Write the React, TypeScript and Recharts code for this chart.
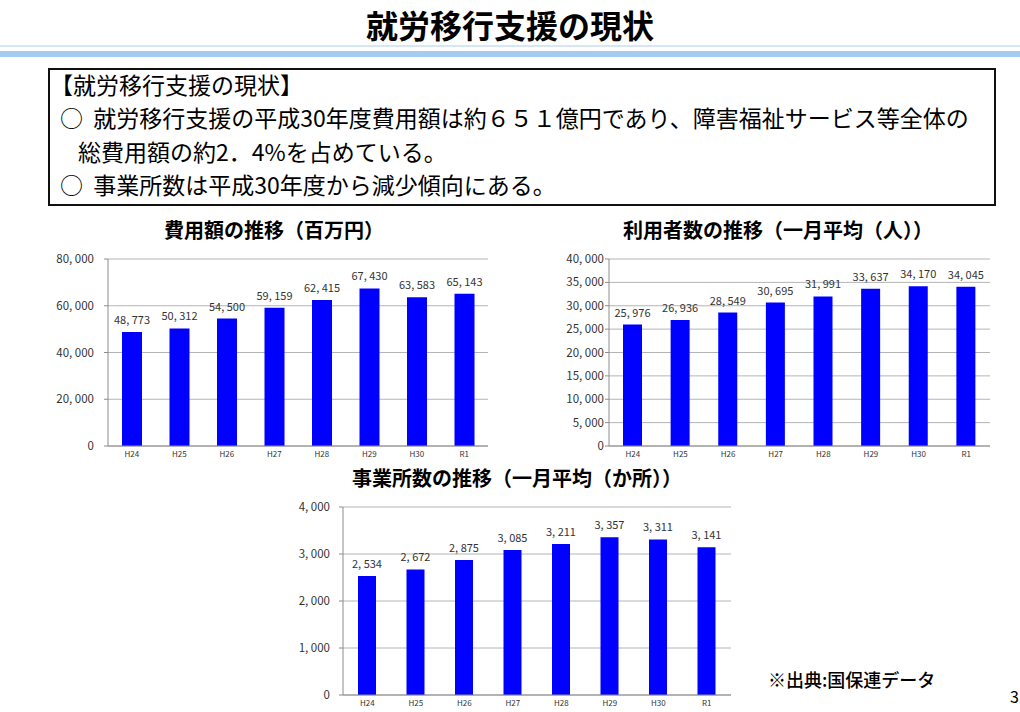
import { BarChart, Bar, XAxis, YAxis, CartesianGrid, LabelList } from 'recharts';

const categories = ['H24', 'H25', 'H26', 'H27', 'H28', 'H29', 'H30', 'R1'];
const costValues = [48773, 50312, 54500, 59159, 62415, 67430, 63583, 65143];
const userValues = [25976, 26936, 28549, 30695, 31991, 33637, 34170, 34045];
const officeValues = [2534, 2672, 2875, 3085, 3211, 3357, 3311, 3141];

const costTicks = [0, 20000, 40000, 60000, 80000];
const userTicks = [0, 5000, 10000, 15000, 20000, 25000, 30000, 35000, 40000];
const officeTicks = [0, 1000, 2000, 3000, 4000];

const FONT = "'Noto Sans CJK JP', 'Noto Sans', sans-serif";
const BAR_COLOR = '#0000ff';

// Excel-style "48, 773" (non-breaking space so the label never wraps)
const fmt = (n: number) => n.toLocaleString('en-US').replace(/,/g, ',\u00a0');

interface PanelProps {
  values: number[];
  ticks: number[];
  plotLeft: number;
  plotTop: number;
  plotW: number;
  plotH: number;
  yWidth: number;
  tickGap: number;
  barSize: number;
}

const renderValueLabel = (props: any) => {
  const { x, y, width, value } = props;
  return (
    <text
      x={Number(x) + Number(width) / 2}
      y={Number(y) - 8}
      textAnchor="middle"
      fontSize={11}
      fill="#333"
      fontFamily={FONT}
    >
      {fmt(Number(value))}
    </text>
  );
};

function Panel({ values, ticks, plotLeft, plotTop, plotW, plotH, yWidth, tickGap, barSize }: PanelProps) {
  const data = categories.map((c, i) => ({ name: c, value: values[i] }));
  const mTop = 10;
  const mRight = 10;
  const xH = 22;
  return (
    <div style={{ position: 'absolute', left: plotLeft - yWidth, top: plotTop - mTop }}>
      <BarChart
        width={yWidth + plotW + mRight}
        height={mTop + plotH + xH}
        data={data}
        margin={{ top: mTop, right: mRight, left: 0, bottom: 0 }}
        barCategoryGap={0}
      >
        <CartesianGrid vertical={false} stroke="#b4b4b4" />
        <XAxis
          dataKey="name"
          height={xH}
          axisLine={{ stroke: '#8c8c8c' }}
          tickLine={false}
          tickSize={0}
          tickMargin={5}
          interval={0}
          tick={{ fontSize: 8, fill: '#333', fontFamily: FONT }}
        />
        <YAxis
          width={yWidth}
          domain={[ticks[0], ticks[ticks.length - 1]]}
          ticks={ticks}
          interval={0}
          tickFormatter={fmt}
          axisLine={{ stroke: '#8c8c8c' }}
          tickLine={{ stroke: '#8c8c8c' }}
          tickSize={4}
          tickMargin={tickGap}
          tick={{ fontSize: 11.5, fill: '#333', fontFamily: FONT }}
        />
        <Bar dataKey="value" fill={BAR_COLOR} barSize={barSize} isAnimationActive={false}>
          <LabelList dataKey="value" content={renderValueLabel} />
        </Bar>
      </BarChart>
    </div>
  );
}

const chartTitle: React.CSSProperties = {
  position: 'absolute',
  fontFamily: FONT,
  fontWeight: 700,
  fontSize: 20,
  color: '#000',
  whiteSpace: 'nowrap',
  transform: 'translateX(-50%)',
  lineHeight: 1,
};

const boxText: React.CSSProperties = {
  position: 'absolute',
  fontFamily: FONT,
  fontSize: 23,
  color: '#000',
  whiteSpace: 'nowrap',
  lineHeight: 1,
};

export default function App() {
  return (
    <div style={{ position: 'absolute', left: 0, top: 0, width: 1020, height: 712, background: '#fff', overflow: 'hidden' }}>
      <div style={{ position: 'absolute', left: 0, width: 1020, top: 8, textAlign: 'center', fontFamily: FONT, fontWeight: 700, fontSize: 32, lineHeight: 1 }}>
        就労移行支援の現状
      </div>
      <div style={{ position: 'absolute', left: 0, top: 45, width: 1020, height: 2, background: '#d5e6f5' }} />
      <div style={{ position: 'absolute', left: 0, top: 51, width: 1020, height: 6, background: '#a6cbf2' }} />

      <div style={{ position: 'absolute', left: 48, top: 68, width: 944, height: 134, border: '2px solid #111' }} />
      <div style={{ ...boxText, left: 50, top: 73 }}>【就労移行支援の現状】</div>
      <div style={{ ...boxText, left: 60, top: 106 }}>○&nbsp;&nbsp;就労移行支援の平成30年度費用額は約６５１億円であり、障害福祉サービス等全体の</div>
      <div style={{ ...boxText, left: 78, top: 140 }}>総費用額の約2．4%を占めている。</div>
      <div style={{ ...boxText, left: 60, top: 173 }}>○&nbsp;&nbsp;事業所数は平成30年度から減少傾向にある。</div>

      <div style={{ ...chartTitle, left: 274, top: 220 }}>費用額の推移（百万円）</div>
      <div style={{ ...chartTitle, left: 778, top: 220 }}>利用者数の推移（一月平均（人））</div>
      <div style={{ ...chartTitle, left: 517, top: 468 }}>事業所数の推移（一月平均（か所））</div>

      <Panel values={costValues} ticks={costTicks} plotLeft={108} plotTop={259} plotW={380} plotH={187} yWidth={68} tickGap={10} barSize={20} />
      <Panel values={userValues} ticks={userTicks} plotLeft={609} plotTop={259} plotW={381} plotH={187} yWidth={60} tickGap={1} barSize={19} />
      <Panel values={officeValues} ticks={officeTicks} plotLeft={343} plotTop={507} plotW={388} plotH={188} yWidth={53} tickGap={9} barSize={18} />

      <div style={{ position: 'absolute', left: 768, top: 670, fontFamily: FONT, fontSize: 18, fontWeight: 500, whiteSpace: 'nowrap', lineHeight: 1 }}>
        ※出典:国保連データ
      </div>
      <div style={{ position: 'absolute', left: 1010, top: 688, fontFamily: FONT, fontSize: 16, lineHeight: 1 }}>3</div>
    </div>
  );
}
